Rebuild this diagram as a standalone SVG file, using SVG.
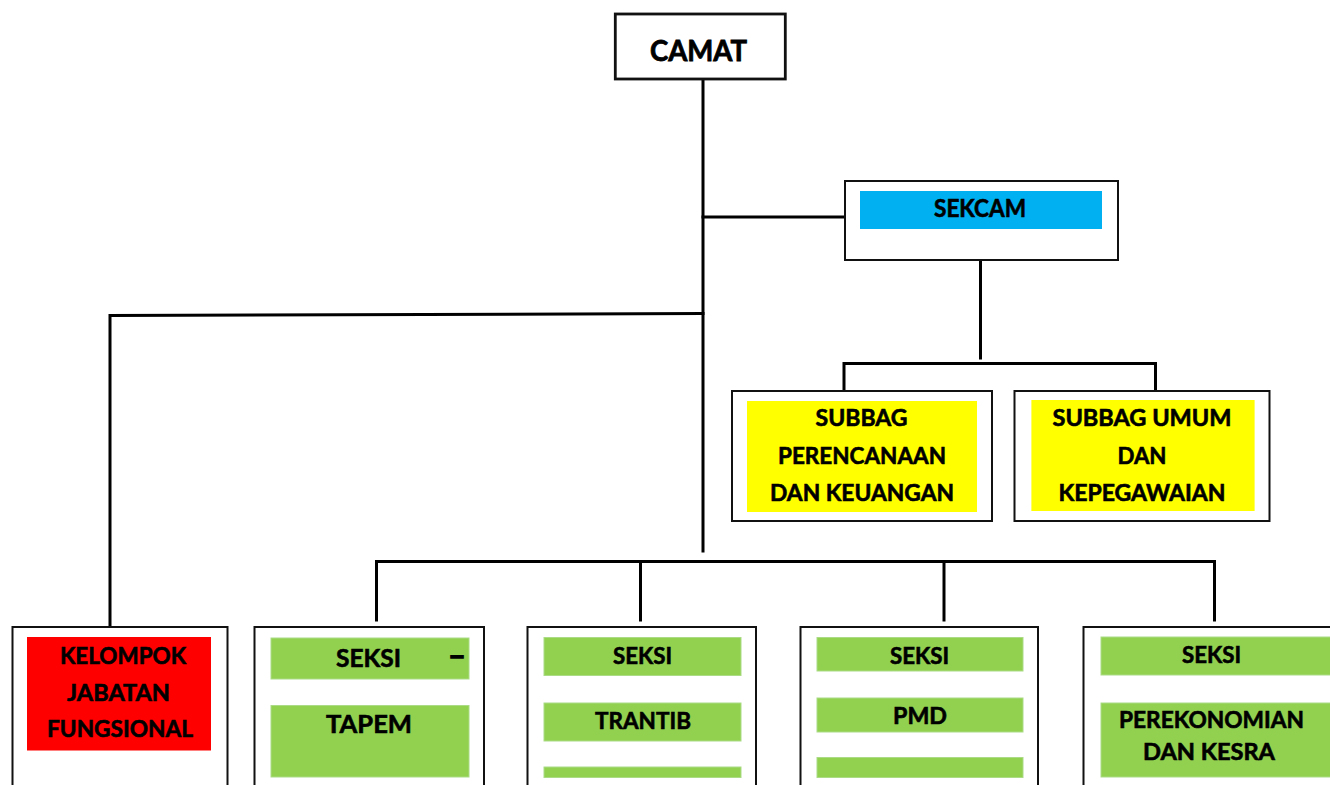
<svg xmlns="http://www.w3.org/2000/svg" width="1330" height="785" viewBox="0 0 1330 785">
<style>
  .box{fill:#fff;stroke:#111;stroke-width:2}
  .g{fill:#92D050;stroke:#ABDC85;stroke-width:1}
  .y{fill:#FFFF00}
  .t{font-family:Lato,"Open Sans","Liberation Sans",sans-serif;font-weight:bold;font-size:23px;fill:#000;stroke:#000;stroke-width:0.6;text-anchor:middle}
  .c{fill:none;stroke:#000;stroke-width:3;stroke-linecap:square}
</style>
<rect x="0" y="0" width="1330" height="785" fill="#fff"/>
<g id="connectors">
  <line class="c" x1="703" y1="79" x2="703" y2="551"/>
  <line class="c" x1="703" y1="217" x2="844" y2="217"/>
  <polyline class="c" points="703,313.5 110,315.5 110,626"/>
  <line class="c" x1="980.5" y1="261" x2="980.5" y2="358"/>
  <polyline class="c" points="844,390 844,363.5 1155.5,363.5 1155.5,390"/>
  <line class="c" x1="376.5" y1="561.5" x2="1214.5" y2="561.5"/>
  <line class="c" x1="376.5" y1="561.5" x2="376.5" y2="620"/>
  <line class="c" x1="640.5" y1="561.5" x2="640.5" y2="620"/>
  <line class="c" x1="944" y1="561.5" x2="944" y2="620"/>
  <line class="c" x1="1214.5" y1="561.5" x2="1214.5" y2="620"/>
</g>
<g id="camat">
  <rect class="box" x="615.3" y="14" width="170" height="65" style="stroke-width:2.8"/>
  <text class="t" x="698.5" y="61" textLength="97" lengthAdjust="spacingAndGlyphs" style="font-size:29px;stroke-width:0.8">CAMAT</text>
</g>
<g id="sekcam">
  <rect class="box" x="845" y="181" width="273" height="79"/>
  <rect x="860" y="191" width="242" height="38" fill="#00B0F0"/>
  <text class="t" x="980" y="217" textLength="92" lengthAdjust="spacingAndGlyphs" style="font-size:24px">SEKCAM</text>
</g>
<g id="subbag-perencanaan">
  <rect class="box" x="732" y="391" width="260" height="130"/>
  <rect class="y" x="747" y="401" width="230" height="111"/>
  <text class="t" x="861.6" y="426" textLength="92" lengthAdjust="spacingAndGlyphs">SUBBAG</text>
  <text class="t" x="862" y="464" textLength="168" lengthAdjust="spacingAndGlyphs">PERENCANAAN</text>
  <text class="t" x="862" y="501" textLength="184" lengthAdjust="spacingAndGlyphs">DAN KEUANGAN</text>
</g>
<g id="subbag-umum">
  <rect class="box" x="1014.5" y="391" width="255" height="130"/>
  <rect class="y" x="1031.4" y="400" width="223.2" height="111"/>
  <text class="t" x="1142" y="426" textLength="179" lengthAdjust="spacingAndGlyphs">SUBBAG UMUM</text>
  <text class="t" x="1142" y="464" textLength="49" lengthAdjust="spacingAndGlyphs">DAN</text>
  <text class="t" x="1142" y="501" textLength="167" lengthAdjust="spacingAndGlyphs">KEPEGAWAIAN</text>
</g>
<g id="kelompok-jabatan-fungsional">
  <rect class="box" x="12.5" y="627" width="215" height="180"/>
  <rect x="27" y="637" width="184" height="113.5" fill="#FF0000"/>
  <text class="t" x="123" y="664" textLength="126" lengthAdjust="spacingAndGlyphs">KELOMPOK</text>
  <text class="t" x="118.5" y="701" textLength="103" lengthAdjust="spacingAndGlyphs">JABATAN</text>
  <text class="t" x="120" y="737" textLength="146" lengthAdjust="spacingAndGlyphs">FUNGSIONAL</text>
</g>
<g id="seksi-tapem">
  <rect class="box" x="254.5" y="627" width="229.5" height="180"/>
  <rect class="g" x="271" y="638" width="198" height="41"/>
  <rect class="g" x="271" y="705.5" width="198" height="71.5"/>
  <text class="t" x="368.5" y="667" textLength="65" lengthAdjust="spacingAndGlyphs" style="font-size:25px">SEKSI</text>
  <text class="t" x="457" y="664" textLength="17" lengthAdjust="spacingAndGlyphs" style="font-size:25px;stroke-width:1.6">–</text>
  <text class="t" x="369" y="733" textLength="86" lengthAdjust="spacingAndGlyphs" style="font-size:25px">TAPEM</text>
</g>
<g id="seksi-trantib">
  <rect class="box" x="527.5" y="627" width="228.5" height="180"/>
  <rect class="g" x="544" y="637.5" width="197" height="38"/>
  <rect class="g" x="544" y="703" width="197" height="38"/>
  <rect class="g" x="544" y="767" width="197" height="10.5"/>
  <text class="t" x="642.5" y="664" textLength="59" lengthAdjust="spacingAndGlyphs">SEKSI</text>
  <text class="t" x="643" y="729" textLength="96" lengthAdjust="spacingAndGlyphs">TRANTIB</text>
</g>
<g id="seksi-pmd">
  <rect class="box" x="800.5" y="627" width="237.5" height="180"/>
  <rect class="g" x="817" y="637.5" width="206" height="33.5"/>
  <rect class="g" x="817" y="698" width="206" height="34"/>
  <rect class="g" x="817" y="757.5" width="206" height="20"/>
  <text class="t" x="919.5" y="664" textLength="59" lengthAdjust="spacingAndGlyphs">SEKSI</text>
  <text class="t" x="920" y="724" textLength="54" lengthAdjust="spacingAndGlyphs">PMD</text>
</g>
<g id="seksi-perekonomian">
  <rect class="box" x="1083.5" y="627" width="260" height="180"/>
  <rect class="g" x="1101" y="637" width="240" height="38"/>
  <rect class="g" x="1101" y="703" width="240" height="74"/>
  <text class="t" x="1211.5" y="663" textLength="59" lengthAdjust="spacingAndGlyphs">SEKSI</text>
  <text class="t" x="1211.5" y="728" textLength="185" lengthAdjust="spacingAndGlyphs">PEREKONOMIAN</text>
  <text class="t" x="1209" y="760" textLength="132" lengthAdjust="spacingAndGlyphs">DAN KESRA</text>
</g>
</svg>
